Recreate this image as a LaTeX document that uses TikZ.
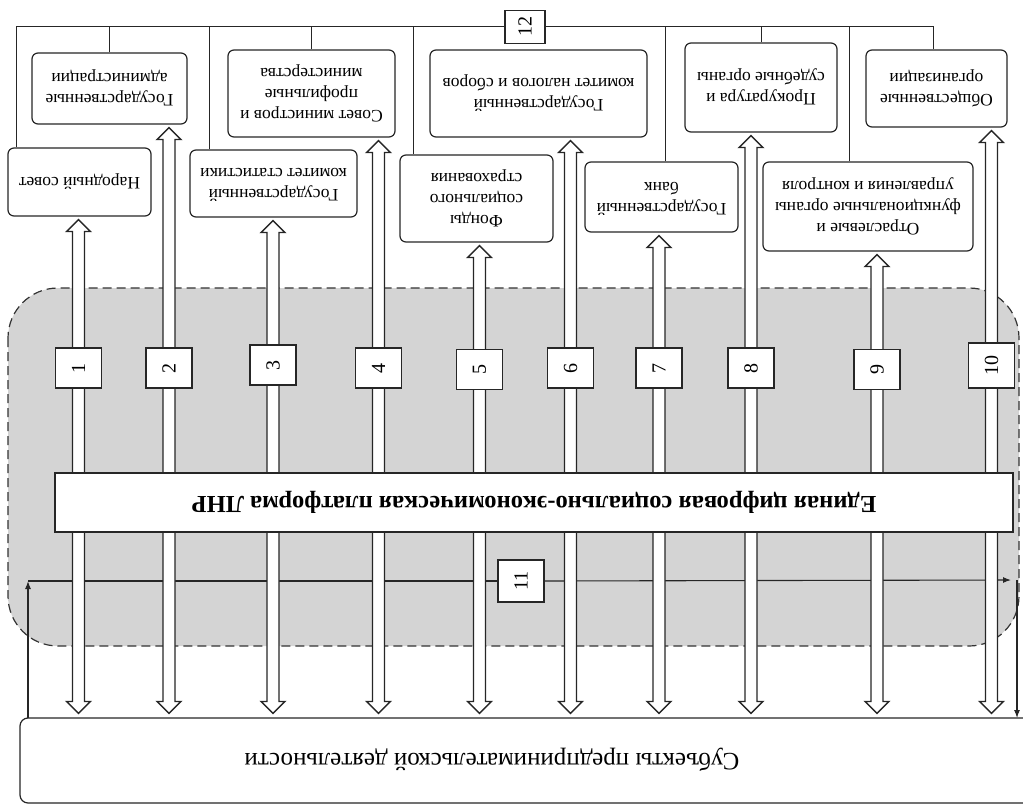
\documentclass[tikz,border=0pt]{standalone}
\usepackage{fontspec}
\setmainfont{Liberation Serif}
\usetikzlibrary{calc,arrows.meta}
\newcommand\updn[1]{\rotatebox{180}{\begin{tabular}{@{}c@{}}#1\end{tabular}}}
\newcommand\dblarr[3]{%
  \draw[harr] let \p1=(#2.south), \p2=(#3.north) in
    ({#1pt},{\y1-3pt}) -- ({#1pt+12pt},{\y1-15pt}) -- ({#1pt+6pt},{\y1-15pt})
    -- ({#1pt+6pt},{\y2+16pt}) -- ({#1pt+12pt},{\y2+16pt}) -- ({#1pt},{\y2+4pt})
    -- ({#1pt-12pt},{\y2+16pt}) -- ({#1pt-6pt},{\y2+16pt}) -- ({#1pt-6pt},{\y1-15pt})
    -- ({#1pt-12pt},{\y1-15pt}) -- cycle;}
\begin{document}
\begin{tikzpicture}[x=1pt,y=-1pt,
  ln/.style={draw=black!85, line width=1.2pt},
  rbox/.style={ln, rounded corners=6pt, fill=white, inner sep=0pt,
    font=\fontsize{17.5}{21}\selectfont},
  numbox/.style={ln, fill=white, inner sep=0pt, minimum width=46pt,
    minimum height=40pt, font=\fontsize{20}{24}\selectfont},
  harr/.style={draw=black!85, line width=1.3pt, fill=white, line join=miter},
  tip/.style={ln, line width=1.1pt, -{Latex[length=8pt,width=6pt]}}
]
\useasboundingbox (0,0) rectangle (1023,805);
\clip (0,0) rectangle (1023,805);

% gray platform region
\draw[fill=black!17, draw=black!80, line width=1.2pt, dash pattern=on 9pt off 5pt,
  rounded corners=50pt] (8,288) rectangle (1019,646);

% line 11
\node[numbox, minimum height=42pt] (b11) at (521,581) {\rotatebox{90}{11}};
\coordinate (L1) at (28,718);
\coordinate (L2) at (28,581);
\coordinate (R1) at (1011,580);
\coordinate (R2) at (1017,580);
\coordinate (R3) at (1017,718);
\draw[tip] (L1) -- (L2);
\draw[ln, line width=1.1pt] (L2) -- (b11.west);
\draw[tip] (b11.east) -- (R1);
\draw[tip] (R2) -- (R3);

% top boxes
\node[rbox, minimum width=143pt, minimum height=68pt] (A) at (79.5,182) {\updn{Народный совет}};
\node[rbox, minimum width=155pt, minimum height=71pt] (B) at (109.5,88.5) {\updn{Государственные\\администрации}};
\node[rbox, minimum width=167pt, minimum height=67pt] (C) at (273.5,183.5) {\updn{Государственный\\комитет статистики}};
\node[rbox, minimum width=167pt, minimum height=87pt] (D) at (311.5,93.5) {\updn{Совет министров и\\профильные\\министерства}};
\node[rbox, minimum width=153pt, minimum height=87pt] (E) at (476.5,198.5) {\updn{Фонды\\социального\\страхования}};
\node[rbox, minimum width=217pt, minimum height=87pt] (F) at (538.5,93.5) {\updn{Государственный\\комитет налогов и сборов}};
\node[rbox, minimum width=153pt, minimum height=70pt] (G) at (661.5,197) {\updn{Государственный\\банк}};
\node[rbox, minimum width=152pt, minimum height=89pt] (H) at (761,87.5) {\updn{Прокуратура и\\судебные органы}};
\node[rbox, minimum width=210pt, minimum height=89pt] (I) at (868,206.5) {\updn{Отраслевые и\\функциональные органы\\управления и контроля}};
\node[rbox, minimum width=141pt, minimum height=77pt] (J) at (936.5,88.5) {\updn{Общественные\\организации}};

% box 12 and its lines
\node[numbox, minimum width=40pt, minimum height=33pt] (b12) at (525,27) {\rotatebox{90}{12}};
\draw[ln, line width=1pt] ([xshift=9pt]A.north west) |- (b12.west);
\draw[ln, line width=1pt] (B.north) |- (b12.west);
\draw[ln, line width=1pt] ([xshift=20pt]C.north west) |- (b12.west);
\draw[ln, line width=1pt] (D.north) |- (b12.west);
\draw[ln, line width=1pt] ([xshift=14pt]E.north west) |- (b12.west);
\draw[ln, line width=1pt] ([xshift=81pt]G.north west) |- (b12.east);
\draw[ln, line width=1pt] (H.north) |- (b12.east);
\draw[ln, line width=1pt] ([xshift=87pt]I.north west) |- (b12.east);
\draw[ln, line width=1pt] ([xshift=-3pt]J.north) |- (b12.east);

% bottom box
\node[ln, rounded corners=8pt, fill=white, minimum width=1020pt, minimum height=85pt,
  inner sep=0pt] (S) at (530,760.5) {};
\node[font=\fontsize{25}{29}\selectfont, inner sep=0pt] (St) at (492,760)
  {\rotatebox{180}{Субъекты предпринимательской деятельности}};

% double arrows
\dblarr{78.5}{A}{S}
\dblarr{169}{B}{S}
\dblarr{273}{C}{S}
\dblarr{378.5}{D}{S}
\dblarr{479.5}{E}{S}
\dblarr{570.5}{F}{S}
\dblarr{659}{G}{S}
\dblarr{751}{H}{S}
\dblarr{877}{I}{S}
\dblarr{991.5}{J}{S}

% platform
\node[ln, fill=white, minimum width=958pt, minimum height=59pt, inner sep=0pt,
  font=\bfseries\fontsize{24.5}{28}\selectfont] (P) at (534,502.5)
  {\rotatebox{180}{Единая цифровая социально-экономическая платформа ЛНР}};

% number boxes
\node[numbox] (n1) at (78.5,368) {\rotatebox{90}{1}};
\node[numbox] (n2) at (169,368) {\rotatebox{90}{2}};
\node[numbox] (n3) at (273,365) {\rotatebox{90}{3}};
\node[numbox] (n4) at (378.5,368) {\rotatebox{90}{4}};
\node[numbox] (n5) at (479.5,369.5) {\rotatebox{90}{5}};
\node[numbox] (n6) at (570.5,368) {\rotatebox{90}{6}};
\node[numbox] (n7) at (659,368) {\rotatebox{90}{7}};
\node[numbox] (n8) at (751,368) {\rotatebox{90}{8}};
\node[numbox] (n9) at (877,369.5) {\rotatebox{90}{9}};
\node[numbox, minimum height=45pt] (n10) at (991.5,365.5) {\rotatebox{90}{10}};
\end{tikzpicture}
\end{document}
